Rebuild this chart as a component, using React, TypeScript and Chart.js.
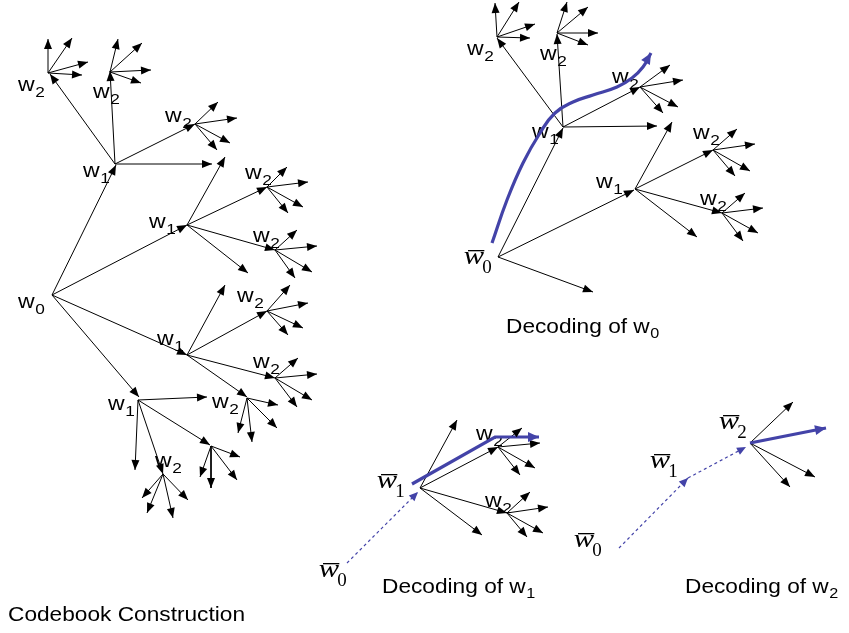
import React, { useEffect, useRef } from "react";
import { Chart, registerables } from "chart.js";

Chart.register(...registerables);

type Arrow = [number, number, number, number];
type Pt = [number, number];

// ---- Codebook construction tree (left) ----
const codebookArrows: Arrow[] = [
  // w0 -> w1
  [52, 295, 116, 165], [52, 295, 187, 225], [52, 295, 187, 355], [52, 295, 139, 397],
  // w1 (top) children
  [115, 164, 50, 74], [115, 164, 110, 71], [115, 164, 195, 124], [115, 164, 212, 164],
  // w2 leaves
  [48, 73, 48, 39], [48, 73, 72, 38], [48, 73, 88, 62], [48, 73, 82, 75],
  [110, 72, 118, 39], [110, 72, 142, 43], [110, 72, 151, 70], [110, 72, 141, 83],
  [195, 124, 218, 102], [195, 124, 237, 118], [195, 124, 230, 143], [195, 124, 217, 150],
  // w1 (second) children
  [187, 225, 225, 157], [187, 225, 267, 187], [187, 225, 275, 250], [187, 225, 248, 273],
  [267, 187, 287, 167], [267, 187, 308, 182], [267, 187, 303, 207], [267, 187, 288, 213],
  [275, 250, 297, 230], [275, 250, 317, 246], [275, 250, 312, 272], [275, 250, 295, 278],
  // w1 (third) children
  [187, 355, 225, 285], [187, 355, 267, 311], [187, 355, 275, 378], [187, 355, 247, 397],
  [267, 311, 290, 285], [267, 311, 308, 303], [267, 311, 303, 328], [267, 311, 288, 335],
  [275, 378, 298, 358], [275, 378, 317, 374], [275, 378, 312, 400], [275, 378, 297, 407],
  [247, 398, 278, 405], [247, 398, 277, 428], [247, 398, 252, 442], [247, 398, 238, 433],
  // w1 (fourth) children
  [138, 400, 207, 397], [138, 400, 135, 470], [138, 400, 163, 474], [138, 400, 210, 445],
  [211, 446, 240, 457], [211, 446, 237, 480], [211, 446, 211, 488], [211, 446, 200, 477],
  [163, 474, 142, 498], [163, 474, 147, 513], [163, 474, 173, 518], [163, 474, 188, 500],
];

// ---- Decoding of w0 (top right) ----
const decodeW0Arrows: Arrow[] = [
  [498, 257, 563, 128], [498, 257, 634, 190], [498, 257, 593, 292],
  [563, 127, 497, 38], [563, 127, 557, 34], [563, 127, 640, 87], [563, 127, 657, 126],
  [497, 37, 495, 3], [497, 37, 519, 2], [497, 37, 535, 24], [497, 37, 530, 38],
  [557, 33, 567, 2], [557, 33, 588, 7], [557, 33, 598, 33], [557, 33, 588, 45],
  [640, 87, 670, 65], [640, 87, 683, 80], [640, 87, 678, 107], [640, 87, 663, 113],
  [635, 189, 672, 122], [635, 189, 713, 150], [635, 189, 722, 213], [635, 189, 697, 237],
  [713, 150, 737, 129], [713, 150, 755, 144], [713, 150, 750, 171], [713, 150, 735, 176],
  [722, 213, 745, 193], [722, 213, 763, 208], [722, 213, 758, 233], [722, 213, 743, 241],
];
const decodeW0Path: Pt[] = [
  [492, 243], [507, 200], [523, 163], [540, 133], [555, 113], [573, 102],
  [593, 95], [617, 87], [632, 78], [643, 67], [651, 53],
];

// ---- Decoding of w1 (bottom middle) ----
const decodeW1Arrows: Arrow[] = [
  [420, 488, 457, 420], [420, 488, 498, 447], [420, 488, 507, 513], [420, 488, 482, 535],
  [498, 447, 522, 428], [498, 447, 540, 443], [498, 447, 535, 468], [498, 447, 520, 475],
  [507, 513, 530, 492], [507, 513, 548, 507], [507, 513, 543, 533], [507, 513, 527, 537],
];
const decodeW1Path: Pt[] = [[412, 484], [495, 437], [539, 437]];
const decodeW1Dashed: Arrow[] = [[347, 563, 418, 492]];

// ---- Decoding of w2 (bottom right) ----
const decodeW2Arrows: Arrow[] = [
  [750, 443, 793, 402], [750, 443, 815, 477], [750, 443, 790, 487],
];
const decodeW2Path: Pt[] = [[750, 443], [826, 428]];
const decodeW2Dashed: Arrow[] = [[619, 548, 688, 478], [688, 478, 746, 447]];

// ---- Text ----
// plain "w" labels: subscript, x, baseline
const plainLabels: [string, number, number][] = [
  ["2", 18, 91], ["2", 93, 98], ["2", 165, 122], ["1", 83, 177], ["1", 149, 228],
  ["2", 245, 179], ["2", 253, 242], ["0", 18, 308], ["2", 237, 302], ["1", 157, 345],
  ["2", 253, 368], ["1", 108, 410], ["2", 212, 408], ["2", 155, 467],
  ["2", 467, 55], ["2", 540, 60], ["2", 612, 83], ["1", 532, 138], ["1", 596, 188],
  ["2", 693, 139], ["2", 700, 205],
  ["2", 476, 440], ["2", 485, 507],
];
// overbar "w" labels (serif italic): subscript, x, baseline
const barLabels: [string, number, number][] = [
  ["0", 465, 264], ["1", 378, 488], ["0", 320, 577],
  ["0", 575, 547], ["1", 651, 468], ["2", 720, 429],
];
const captions: [string, string, number, number][] = [
  ["Codebook Construction", "", 8, 621],
  ["Decoding of w", "0", 506, 333],
  ["Decoding of w", "1", 382, 593],
  ["Decoding of w", "2", 685, 593],
];

const BLUE = "#4343a8";

function seg(a: Arrow) {
  return [{ x: a[0], y: a[1] }, { x: a[2], y: a[3] }];
}

const App: React.FC = () => {
  const ref = useRef<HTMLCanvasElement | null>(null);

  useEffect(() => {
    if (!ref.current) return;

    const blackArrows = [...codebookArrows, ...decodeW0Arrows, ...decodeW1Arrows, ...decodeW2Arrows];

    const datasets: any[] = [];
    blackArrows.forEach((a) =>
      datasets.push({
        data: seg(a), showLine: true, borderColor: "#000", borderWidth: 1,
        pointRadius: 0, tension: 0, order: 2, clip: false,
      })
    );
    [...decodeW1Dashed, ...decodeW2Dashed].forEach((a) =>
      datasets.push({
        data: seg(a), showLine: true, borderColor: BLUE, borderWidth: 1.2,
        borderDash: [3, 3], pointRadius: 0, tension: 0, order: 1, clip: false,
      })
    );
    datasets.push({
      data: decodeW0Path.map((p) => ({ x: p[0], y: p[1] })), showLine: true,
      borderColor: BLUE, borderWidth: 3.2, pointRadius: 0, tension: 0.45,
      cubicInterpolationMode: "default", order: 0, clip: false,
    });
    [decodeW1Path, decodeW2Path].forEach((path) =>
      datasets.push({
        data: path.map((p) => ({ x: p[0], y: p[1] })), showLine: true,
        borderColor: BLUE, borderWidth: 3.2, pointRadius: 0, tension: 0, order: 0, clip: false,
      })
    );

    const head = (ctx: CanvasRenderingContext2D, x1: number, y1: number, x2: number, y2: number, color: string, len: number, half: number) => {
      const ang = Math.atan2(y2 - y1, x2 - x1);
      ctx.save();
      ctx.translate(x2, y2);
      ctx.rotate(ang);
      ctx.beginPath();
      ctx.moveTo(0, 0);
      ctx.lineTo(-len, -half);
      ctx.lineTo(-len, half);
      ctx.closePath();
      ctx.fillStyle = color;
      ctx.fill();
      ctx.restore();
    };

    const textPlugin = {
      id: "diagramText",
      beforeDatasetsDraw(chart: any) {
        const ctx: CanvasRenderingContext2D = chart.ctx;
        const sx = chart.scales.x, sy = chart.scales.y;
        const X = (v: number) => sx.getPixelForValue(v);
        const Y = (v: number) => sy.getPixelForValue(v);
        ctx.save();
        ctx.fillStyle = "#000";
        ctx.textBaseline = "alphabetic";
        ctx.textAlign = "left";
        // plain w labels
        plainLabels.forEach(([sub, x, y]) => {
          const px = X(x), py = Y(y);
          ctx.save();
          ctx.translate(px, py);
          ctx.scale(1.15, 1);
          ctx.font = '20px "Liberation Sans", Arial, sans-serif';
          ctx.fillText("w", 0, 0);
          const w = ctx.measureText("w").width;
          ctx.font = '15px "Liberation Sans", Arial, sans-serif';
          ctx.fillText(sub, w + 0.5, 6);
          ctx.restore();
        });
        // overbar w labels
        barLabels.forEach(([sub, x, y]) => {
          const px = X(x), py = Y(y);
          ctx.save();
          ctx.translate(px, py);
          ctx.save();
          ctx.scale(1.22, 1);
          ctx.font = 'italic 25px "Liberation Serif", "DejaVu Serif", serif';
          ctx.fillText("w", -1, 0);
          const w = ctx.measureText("w").width;
          ctx.restore();
          const ww = w * 1.22;
          ctx.fillRect(3, -14, ww - 4, 1.3);
          ctx.font = '19px "Liberation Serif", "DejaVu Serif", serif';
          ctx.fillText(sub, ww - 3, 9);
          ctx.restore();
        });
        // captions
        captions.forEach(([txt, sub, x, y]) => {
          const px = X(x), py = Y(y);
          ctx.save();
          ctx.translate(px, py);
          ctx.scale(1.08, 1);
          ctx.font = '21px "Liberation Sans", Arial, sans-serif';
          ctx.fillText(txt, 0, 0);
          const w = ctx.measureText(txt).width;
          if (sub) {
            ctx.font = '15px "Liberation Sans", Arial, sans-serif';
            ctx.fillText(sub, w + 0.5, 5);
          }
          ctx.restore();
        });
        ctx.restore();
      },
      afterDatasetsDraw(chart: any) {
        const ctx: CanvasRenderingContext2D = chart.ctx;
        const sx = chart.scales.x, sy = chart.scales.y;
        const X = (v: number) => sx.getPixelForValue(v);
        const Y = (v: number) => sy.getPixelForValue(v);
        blackArrows.forEach((a) => head(ctx, X(a[0]), Y(a[1]), X(a[2]), Y(a[3]), "#000", 10, 4));
        [...decodeW1Dashed, ...decodeW2Dashed].forEach((a) =>
          head(ctx, X(a[0]), Y(a[1]), X(a[2]), Y(a[3]), BLUE, 9, 4)
        );
        [decodeW0Path, decodeW1Path, decodeW2Path].forEach((p) => {
          const n = p.length;
          head(ctx, X(p[n - 2][0]), Y(p[n - 2][1]), X(p[n - 1][0]), Y(p[n - 1][1]), BLUE, 11, 5);
        });
      },
    };

    const chart = new Chart(ref.current, {
      type: "scatter",
      data: { datasets },
      options: {
        animation: false,
        responsive: true,
        maintainAspectRatio: false,
        layout: { padding: 0 },
        plugins: { legend: { display: false }, tooltip: { enabled: false } },
        scales: {
          x: { type: "linear", min: 0, max: 849, display: false },
          y: { type: "linear", min: 0, max: 633, reverse: true, display: false },
        },
        events: [],
      },
      plugins: [textPlugin],
    });
    return () => chart.destroy();
  }, []);

  return (
    <div style={{ position: "absolute", left: 0, top: 0, width: 849, height: 633, background: "#fff" }}>
      <canvas ref={ref} />
    </div>
  );
};

export default App;
